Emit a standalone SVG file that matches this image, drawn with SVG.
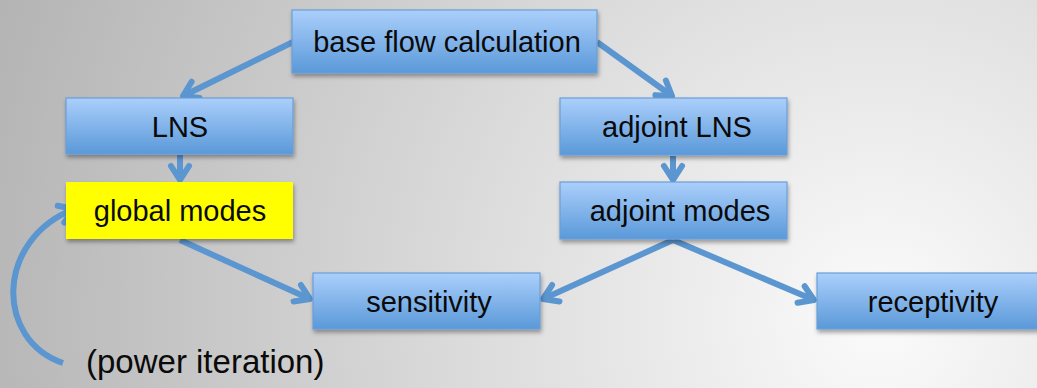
<svg xmlns="http://www.w3.org/2000/svg" width="1037" height="388" viewBox="0 0 1037 388">
  <defs>
    <radialGradient id="bg" gradientUnits="userSpaceOnUse" cx="880" cy="320" r="930">
      <stop offset="0" stop-color="#fbfbfb"/>
      <stop offset="1" stop-color="#b4b4b4"/>
    </radialGradient>
    <linearGradient id="boxFill" x1="0" y1="0" x2="0" y2="1">
      <stop offset="0" stop-color="#abcffb"/>
      <stop offset="1" stop-color="#5a99d9"/>
    </linearGradient>
    <filter id="shadow" x="-10%" y="-20%" width="120%" height="150%">
      <feDropShadow dx="1" dy="3" stdDeviation="2" flood-color="#000" flood-opacity="0.35"/>
    </filter>
    <marker id="head" markerUnits="userSpaceOnUse" markerWidth="40" markerHeight="40" viewBox="-20 -20 40 40" refX="0" refY="0" orient="auto" overflow="visible">
      <path d="M-14,-9 L0,0 L-14,9" fill="none" stroke="#5b96d0" stroke-width="6" stroke-linecap="round" stroke-linejoin="round"/>
    </marker>
    <style>
      .box { fill: url(#boxFill); stroke: #6a9fd8; stroke-width: 1.2; filter: url(#shadow); }
      .hl { fill: #ffff00; stroke: none; filter: url(#shadow); }
      .lbl { font-family: "Liberation Sans", Arial, sans-serif; font-size: 29px; fill: #0a0a0a; text-anchor: middle; }
      .note { font-family: "Liberation Sans", Arial, sans-serif; font-size: 33px; fill: #0a0a0a; }
      .edge { fill: none; stroke: #5b96d0; stroke-width: 6; marker-end: url(#head); }
    </style>
  </defs>

  <rect width="1037" height="388" fill="url(#bg)"/>

  <g id="connectors">
    <line class="edge" x1="293" y1="42" x2="183" y2="96"/>
    <line class="edge" x1="597" y1="42" x2="672" y2="96"/>
    <line class="edge" x1="180" y1="155" x2="180" y2="180"/>
    <line class="edge" x1="673" y1="156" x2="673" y2="180"/>
    <line class="edge" x1="180" y1="240" x2="310" y2="299"/>
    <line class="edge" x1="673" y1="240" x2="543" y2="299"/>
    <line class="edge" x1="673" y1="240" x2="814" y2="300"/>
    <path class="edge" d="M63,363 C-5,340 -5,240 74,209"/>
  </g>

  <g id="base-flow">
    <rect class="box" x="292" y="10" width="305" height="63"/>
    <text class="lbl" x="447" y="52">base flow calculation</text>
  </g>

  <g id="lns">
    <rect class="box" x="66" y="98" width="227" height="56"/>
    <text class="lbl" x="180" y="136.5">LNS</text>
  </g>

  <g id="global-modes">
    <rect class="hl" x="66" y="182" width="227" height="57"/>
    <text class="lbl" x="180" y="221">global modes</text>
  </g>

  <g id="adjoint-lns">
    <rect class="box" x="560" y="98" width="227" height="57"/>
    <text class="lbl" x="677" y="137">adjoint LNS</text>
  </g>

  <g id="adjoint-modes">
    <rect class="box" x="560" y="182" width="227" height="57"/>
    <text class="lbl" x="680" y="221">adjoint modes</text>
  </g>

  <g id="sensitivity">
    <rect class="box" x="313" y="273" width="227" height="56"/>
    <text class="lbl" x="429" y="311.5">sensitivity</text>
  </g>

  <g id="receptivity">
    <rect class="box" x="817" y="273" width="227" height="56"/>
    <text class="lbl" x="933" y="311.5">receptivity</text>
  </g>

  <g id="power-iteration-note">
    <text class="note" x="86" y="373">(power iteration)</text>
  </g>
</svg>
